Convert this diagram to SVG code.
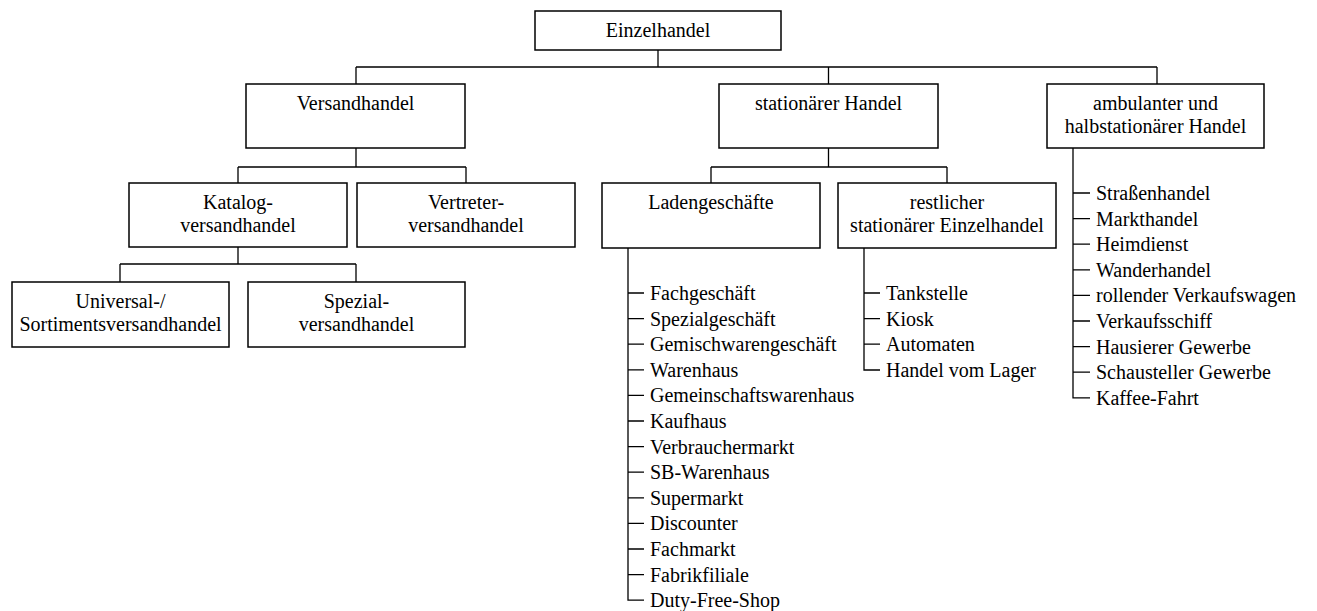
<svg xmlns="http://www.w3.org/2000/svg" width="1317" height="611" viewBox="0 0 1317 611" font-family="'Times New Roman', 'Liberation Serif', serif" font-size="20">
<style>
.box{fill:#fff;stroke:#000;stroke-width:1.5}
.ln{fill:none;stroke:#000;stroke-width:1.3}
text{font-family:'Times New Roman','Liberation Serif',serif;font-size:20px;fill:#000}
.c{text-anchor:middle}
</style>
<rect width="1317" height="611" fill="#fff"/>
<g id="connectors" class="ln">
<path d="M658,50V67M356,67H1157M356,67V84M828.5,67V84M1157,67V84"/>
<path d="M356,148V167M238,167H466M238,167V183M466,167V183"/>
<path d="M828.5,148V167M711,167H947M711,167V183M947,167V183"/>
<path d="M238,247V264M120,264H356M120,264V282M356,264V282"/>
<path d="M628,248V600.2H644M628,293H644M628,318.6H644M628,344.2H644M628,369.8H644M628,395.4H644M628,421H644M628,446.6H644M628,472.2H644M628,497.8H644M628,523.4H644M628,549H644M628,574.6H644"/>
<path d="M864,248V370H880M864,293H880M864,318.6H880M864,344.2H880"/>
<path d="M1073,148V397.8H1090M1073,193H1090M1073,218.6H1090M1073,244.2H1090M1073,269.8H1090M1073,295.4H1090M1073,321H1090M1073,346.6H1090M1073,372.2H1090"/>
</g>
<g id="einzelhandel"><rect class="box" x="535" y="11" width="246" height="39"/><text class="c" x="658" y="37">Einzelhandel</text></g>
<g id="versandhandel"><rect class="box" x="246" y="84" width="219" height="64"/><text class="c" x="355.5" y="110">Versandhandel</text></g>
<g id="stationaer"><rect class="box" x="719" y="84" width="219" height="64"/><text class="c" x="828.5" y="110">stationärer Handel</text></g>
<g id="ambulant"><rect class="box" x="1047" y="84" width="217" height="64"/><text class="c" x="1155.5" y="110">ambulanter und</text><text class="c" x="1155.5" y="133">halbstationärer Handel</text></g>
<g id="katalog"><rect class="box" x="129" y="183" width="218" height="64"/><text class="c" x="238" y="209">Katalog-</text><text class="c" x="238" y="232">versandhandel</text></g>
<g id="vertreter"><rect class="box" x="357" y="183" width="218" height="64"/><text class="c" x="466" y="209">Vertreter-</text><text class="c" x="466" y="232">versandhandel</text></g>
<g id="laden"><rect class="box" x="602" y="183" width="218" height="65"/><text class="c" x="711" y="209">Ladengeschäfte</text></g>
<g id="restlich"><rect class="box" x="838" y="183" width="218" height="65"/><text class="c" x="947" y="209">restlicher</text><text class="c" x="947" y="232">stationärer Einzelhandel</text></g>
<g id="universal"><rect class="box" x="12" y="282" width="217" height="65"/><text class="c" x="120.5" y="308">Universal-/</text><text class="c" x="120.5" y="331">Sortimentsversandhandel</text></g>
<g id="spezial"><rect class="box" x="248" y="282" width="217" height="65"/><text class="c" x="356.5" y="308">Spezial-</text><text class="c" x="356.5" y="331">versandhandel</text></g>
<g id="laden-list">
<text x="650" y="300">Fachgeschäft</text>
<text x="650" y="325.6">Spezialgeschäft</text>
<text x="650" y="351.2">Gemischwarengeschäft</text>
<text x="650" y="376.8">Warenhaus</text>
<text x="650" y="402.4">Gemeinschaftswarenhaus</text>
<text x="650" y="428">Kaufhaus</text>
<text x="650" y="453.6">Verbrauchermarkt</text>
<text x="650" y="479.2">SB-Warenhaus</text>
<text x="650" y="504.8">Supermarkt</text>
<text x="650" y="530.4">Discounter</text>
<text x="650" y="556">Fachmarkt</text>
<text x="650" y="581.6">Fabrikfiliale</text>
<text x="650" y="607.2">Duty-Free-Shop</text>
</g>
<g id="restlich-list">
<text x="886" y="300">Tankstelle</text>
<text x="886" y="325.6">Kiosk</text>
<text x="886" y="351.2">Automaten</text>
<text x="886" y="376.8">Handel vom Lager</text>
</g>
<g id="ambulant-list">
<text x="1096" y="200">Straßenhandel</text>
<text x="1096" y="225.6">Markthandel</text>
<text x="1096" y="251.2">Heimdienst</text>
<text x="1096" y="276.8">Wanderhandel</text>
<text x="1096" y="302.4">rollender Verkaufswagen</text>
<text x="1096" y="328">Verkaufsschiff</text>
<text x="1096" y="353.6">Hausierer Gewerbe</text>
<text x="1096" y="379.2">Schausteller Gewerbe</text>
<text x="1096" y="404.8">Kaffee-Fahrt</text>
</g>
</svg>
